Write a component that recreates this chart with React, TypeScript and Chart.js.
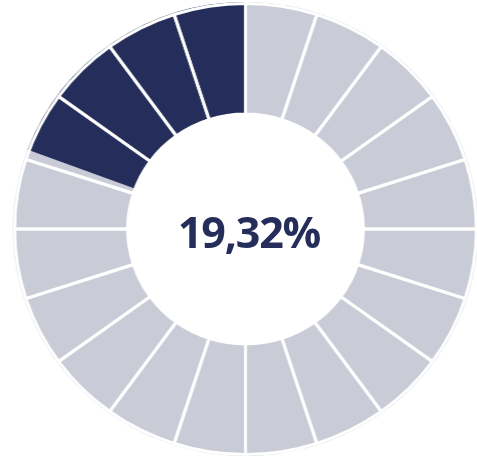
import React, { useEffect, useRef } from "react";
import { Chart, registerables } from "chart.js";

Chart.register(...registerables);

// Data
const valueLabel = "19,32%";
const shareValues = [80.68, 19.32]; // remaining, achieved (achieved ends at 12 o'clock)
const shareColors = ["#C9CBD6", "#252E5A"];
const segmentCount = 20;
const segmentValues = Array.from({ length: segmentCount }, () => 1);

const W = 477;
const H = 457;
const PADDING = { left: 14, right: 0, top: 2, bottom: 1 };

export default function App() {
  const baseRef = useRef<HTMLCanvasElement | null>(null);
  const sepRef = useRef<HTMLCanvasElement | null>(null);

  useEffect(() => {
    const base = new Chart(baseRef.current as HTMLCanvasElement, {
      type: "doughnut",
      data: {
        labels: ["Rest", "Wert"],
        datasets: [
          {
            data: shareValues,
            backgroundColor: shareColors,
            borderWidth: 0,
          },
        ],
      },
      options: {
        animation: false,
        responsive: false,
        cutout: "51%",
        layout: { padding: PADDING },
        plugins: { legend: { display: false }, tooltip: { enabled: false } },
        events: [],
      },
    });
    const sep = new Chart(sepRef.current as HTMLCanvasElement, {
      type: "doughnut",
      data: {
        labels: segmentValues.map((_, i) => String(i + 1)),
        datasets: [
          {
            data: segmentValues,
            backgroundColor: "rgba(0,0,0,0)",
            borderColor: "#FFFFFF",
            borderWidth: 3,
          },
        ],
      },
      options: {
        animation: false,
        responsive: false,
        cutout: "51%",
        layout: { padding: PADDING },
        plugins: { legend: { display: false }, tooltip: { enabled: false } },
        events: [],
      },
    });
    return () => {
      base.destroy();
      sep.destroy();
    };
  }, []);

  return (
    <div
      style={{
        position: "fixed",
        left: 0,
        top: 0,
        width: W,
        height: H,
        background: "#FFFFFF",
        overflow: "hidden",
      }}
    >
      <div
        style={{
          position: "absolute",
          left: 0,
          top: 0,
          width: W,
          height: H,
          transform: "scaleX(1.024)",
          transformOrigin: "245.5px 228px",
        }}
      >
        <canvas ref={baseRef} width={W} height={H} style={{ position: "absolute", left: 0, top: 0 }} />
        <canvas ref={sepRef} width={W} height={H} style={{ position: "absolute", left: 0, top: 0 }} />
      </div>
      <div
        style={{
          position: "absolute",
          left: 149,
          width: 200,
          top: 210,
          textAlign: "center",
          fontFamily: "'Open Sans', sans-serif",
          fontWeight: 700,
          fontSize: 43,
          lineHeight: "43px",
          letterSpacing: "-1.2px",
          color: "#252E5A",
        }}
      >
        {valueLabel}
      </div>
    </div>
  );
}
